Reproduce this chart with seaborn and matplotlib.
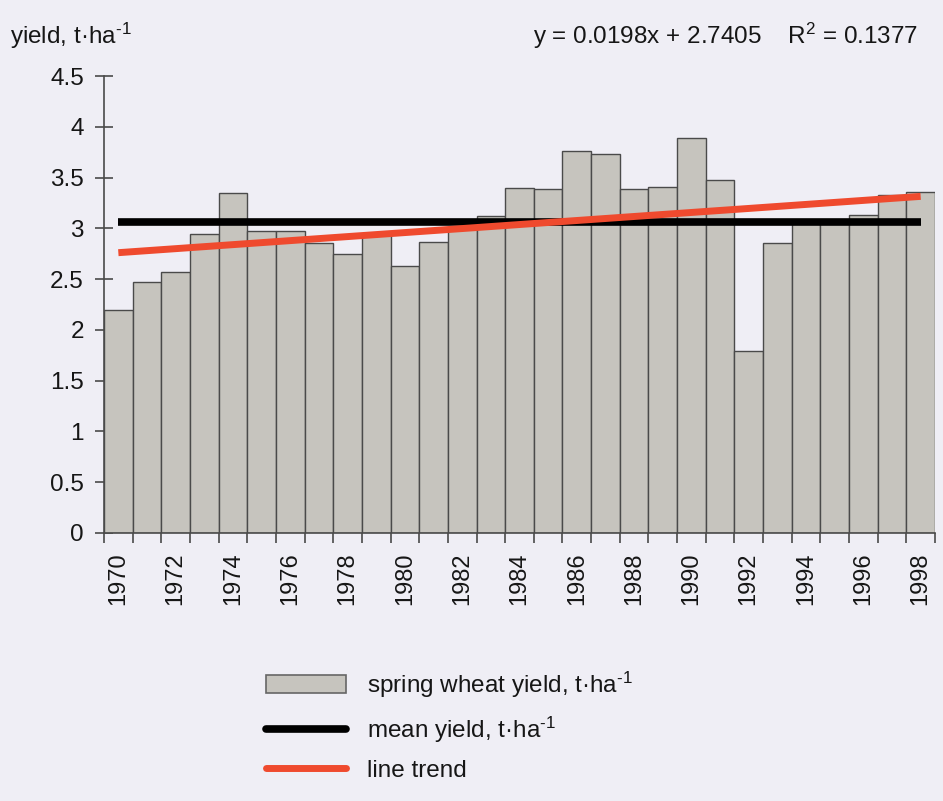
import numpy as np
import pandas as pd
import matplotlib
matplotlib.use("Agg")
import matplotlib.pyplot as plt
import seaborn as sns
from matplotlib.patches import Patch
from matplotlib.lines import Line2D

years = list(range(1970, 1999))
yields = [2.20, 2.47, 2.57, 2.94, 3.35, 2.97, 2.97, 2.86, 2.75, 2.93,
          2.63, 2.87, 2.99, 3.12, 3.40, 3.39, 3.76, 3.73, 3.39, 3.41,
          3.89, 3.48, 1.79, 2.86, 3.07, 3.08, 3.13, 3.33, 3.36]
trend_slope = 0.0198
trend_intercept = 2.7405
r_squared = 0.1377
y_ticks = [0, 0.5, 1, 1.5, 2, 2.5, 3, 3.5, 4, 4.5]
labels = [r"spring wheat yield, t·ha$^{\text{-1}}$",
          r"mean yield, t·ha$^{\text{-1}}$",
          "line trend"]

BG = "#efeef5"
BAR = "#c6c4be"
EDGE = "#4a4a4a"
RED = "#ef4a2e"
TXT = "#161616"

sns.set_theme(style="white")
plt.rcParams["font.family"] = ["Liberation Sans", "DejaVu Sans"]
plt.rcParams["mathtext.fontset"] = "custom"
plt.rcParams["mathtext.rm"] = "Liberation Sans"
plt.rcParams["mathtext.it"] = "Liberation Sans"
plt.rcParams["mathtext.bf"] = "Liberation Sans"

df = pd.DataFrame({"year": [str(y) for y in years], "yield": yields})

fig = plt.figure(figsize=(9.43, 8.01), dpi=100, facecolor=BG)
ax = fig.add_axes([0.1103, 0.3346, 0.9915 - 0.1103, 0.9051 - 0.3346])
ax.set_facecolor(BG)

sns.barplot(data=df, x="year", y="yield", color=BAR, saturation=1, width=1.0,
            edgecolor=EDGE, linewidth=1.0, ax=ax, zorder=2)

idx = np.arange(len(years))
mean_val = np.mean(yields)
ax.plot([idx[0], idx[-1]], [mean_val, mean_val], color="black", lw=5.5,
        solid_capstyle="butt", zorder=3)
trend = trend_intercept + trend_slope * (idx + 1)
ax.plot(idx, trend, color=RED, lw=5.0, solid_capstyle="butt", zorder=4)

ax.set_xlim(-0.5, len(years) - 0.5)
ax.set_ylim(0, 4.5)
ax.set_xlabel("")
ax.set_ylabel("")

for s in ["top", "right"]:
    ax.spines[s].set_visible(False)
for s in ["left", "bottom"]:
    ax.spines[s].set_color(EDGE)
    ax.spines[s].set_linewidth(1.2)

ax.set_yticks(y_ticks)
ax.set_yticklabels([f"{v:g}" for v in y_ticks], fontsize=17.5, color=TXT)
ax.tick_params(axis="y", direction="inout", length=13, width=1.2, color=EDGE, pad=8, left=True)

ax.set_xticks(np.arange(-0.5, len(years), 1.0))
ax.set_xticklabels([])
ax.tick_params(axis="x", which="major", direction="out", length=7, width=1.2, color=EDGE, bottom=True)
ax.set_xticks(idx[::2], minor=True)
ax.set_xticklabels([str(y) for y in years[::2]], minor=True, rotation=90,
                   fontsize=17, color=TXT)
ax.tick_params(axis="x", which="minor", length=0, pad=14)

fig.text(0.011, 0.945, r"yield, t·ha$^{\text{-1}}$", fontsize=17.5, color=TXT,
         ha="left", va="baseline")
fig.text(0.974, 0.945,
         f"y = {trend_slope:.4f}x + {trend_intercept:.4f}    R$^{{2}}$ = {r_squared:.4f}",
         fontsize=17.5, color=TXT, ha="right", va="baseline")

handles = [Patch(facecolor=BAR, edgecolor="#666666", linewidth=1.2),
           Line2D([0], [0], color="black", lw=5.5),
           Line2D([0], [0], color=RED, lw=5.0)]
leg = fig.legend(handles, labels, loc="lower left", bbox_to_anchor=(0.272, 0.012),
                 frameon=False, fontsize=17.5, handlelength=3.3, handleheight=0.75,
                 handletextpad=0.85, labelspacing=0.6, borderaxespad=0)
for t in leg.get_texts():
    t.set_color(TXT)

fig.savefig("out.png", dpi=100, facecolor=BG)
